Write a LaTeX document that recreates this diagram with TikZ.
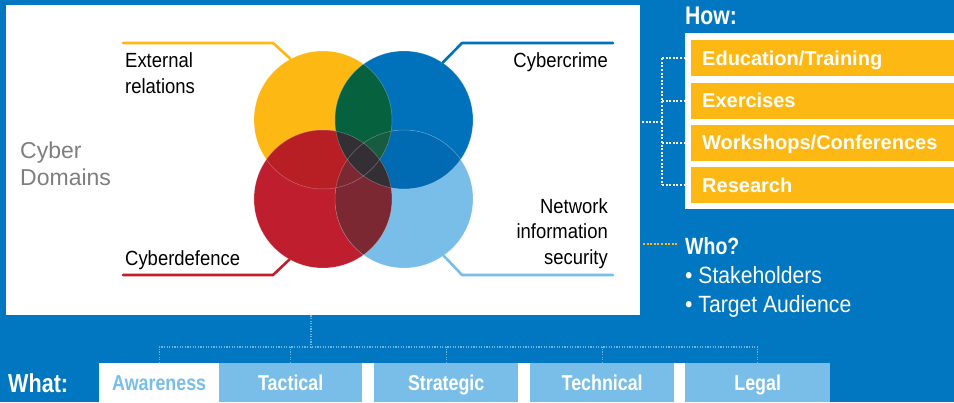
\documentclass[tikz,border=0pt]{standalone}
\usepackage{fontspec}
\setmainfont{Liberation Sans}
\newfontfamily\condf[FakeStretch=0.9]{Liberation Sans}
\newfontfamily\condb[FakeStretch=0.83]{Liberation Sans}
\definecolor{bgblue}{HTML}{0077C0}
\definecolor{cyY}{HTML}{FDB813}
\definecolor{cyB}{HTML}{0072BC}
\definecolor{cyR}{HTML}{BE1E2D}
\definecolor{cyL}{HTML}{79BEE8}
\definecolor{ovYB}{HTML}{06613F}
\definecolor{ovYBL}{HTML}{175C40}
\definecolor{ovYR}{HTML}{B81F25}
\definecolor{ovBL}{HTML}{006AB3}
\definecolor{ovRL}{HTML}{7C2833}
\definecolor{ovC}{HTML}{323035}
\definecolor{txtgray}{HTML}{7F7F7F}
\definecolor{dotblue}{HTML}{6DB3E3}
\begin{document}
\begin{tikzpicture}[x=1pt,y=-1pt,
  venn/.style={circle, minimum size=138, inner sep=0, draw=none},
  lead/.style={line width=2.6pt, line cap=round, line join=round},
  dlabel/.style={inner sep=0, text=black, font=\condf\fontsize{20.5}{25.5}\selectfont},
  howbox/.style={fill=cyY, anchor=north west, minimum height=36, text width=241, inner xsep=11, inner ysep=0, text height=14.3, text depth=0, align=left, text=white, font=\bfseries\fontsize{20}{24}\selectfont},
  whatbox/.style={fill=cyL, anchor=north west, minimum height=39, inner sep=0, text height=15, text depth=0, text=white, font=\condb\bfseries\fontsize{21.5}{24}\selectfont},
  wdot/.style={white, line width=2pt, dash pattern=on 2pt off 1.6pt},
  ydot/.style={cyY, line width=2pt, dash pattern=on 2pt off 1.6pt},
  bdot/.style={dotblue, line width=1.4pt, dash pattern=on 1.2pt off 1.4pt},
  wtext/.style={inner sep=0, text=white}
]
\useasboundingbox (0,0) rectangle (954,402);
\fill[bgblue] (0,0) rectangle (954,402);
% main white panel
\node[fill=white, minimum width=634, minimum height=310, anchor=north west, inner sep=0] (panel) at (6,5) {};
% venn circles
\node[venn, fill=cyY] (cy) at (323,120) {};
\node[venn, fill=cyB] (cb) at (404,120) {};
\node[venn, fill=cyR] (cr) at (323,199) {};
\node[venn, fill=cyL] (cl) at (404,199) {};
\begin{scope}\clip (323,120) circle (69); \fill[ovYR] (323,199) circle (69);\end{scope}
\begin{scope}\clip (404,120) circle (69); \fill[ovBL] (404,199) circle (69);\end{scope}
\begin{scope}\clip (323,120) circle (69); \fill[ovYB] (404,120) circle (69);\end{scope}
\begin{scope}\clip (323,120) circle (69); \clip (404,120) circle (69); \fill[ovYBL] (404,199) circle (69);\end{scope}
\begin{scope}\clip (323,199) circle (69); \fill[ovRL] (404,199) circle (69);\end{scope}
\begin{scope}\clip (404,120) circle (69); \fill[ovC] (323,199) circle (69);\end{scope}
\foreach \p in {(323,120),(404,120),(323,199),(404,199)}
  \draw[white, opacity=.3, line width=.5pt] \p circle (69);
% leader lines
\coordinate (ext1) at (273,43); \coordinate (ext0) at (123,43);
\coordinate (def1) at (273,275); \coordinate (def0) at (123,275);
\coordinate (cri1) at (462,43); \coordinate (cri0) at (613,43);
\coordinate (nis1) at (462,275); \coordinate (nis0) at (613,275);
\draw[lead, cyY] (cy.118) -- (ext1) -- (ext0);
\draw[lead, cyR] (cr.241) -- (def1) -- (def0);
\draw[lead, cyB] (cb.56) -- (cri1) -- (cri0);
\draw[lead, cyL] (cl.305) -- (nis1) -- (nis0);
% labels (base anchor = baseline of last line)
\node[dlabel, anchor=base west, align=left] (ext) at (125,93) {External\\relations};
\node[dlabel, anchor=base west] (cdef) at (125,265) {Cyberdefence};
\node[dlabel, anchor=base east] (ccrime) at (608,67) {Cybercrime};
\node[dlabel, anchor=base east, align=right] (nis) at (608,264) {Network\\information\\security};
\node[inner sep=0, anchor=base west, align=left, text=txtgray, font=\fontsize{23}{27}\selectfont] (dom) at (20,185) {Cyber\\Domains};
% How panel
\node[wtext, anchor=base west, font=\condb\bfseries\fontsize{25.5}{28}\selectfont] (how) at (685,24) {How:};
\fill[white] (685,33) rectangle (954,209);
\node[howbox] (b1) at (691,40) {Education/Training};
\node[howbox] (b2) at (691,82.3) {Exercises};
\node[howbox] (b3) at (691,124.6) {Workshops/Conferences};
\node[howbox] (b4) at (691,167) {Research};
\coordinate (tx) at (662,0);
\coordinate (howin) at (642,122);
\draw[wdot] (b1.west -| tx) -- (b4.west -| tx);
\foreach \b in {b1,b2,b3,b4}
  \draw[wdot] (\b.west -| tx) -- ([xshift=-6pt]\b.west);
\draw[wdot] (howin) -- (howin -| tx);
% Who
\node[wtext, anchor=base west, font=\condb\bfseries\fontsize{23.5}{28}\selectfont] (who) at (685,254) {Who?};
\coordinate (whoin) at (643,244);
\draw[ydot] (whoin) -- ([xshift=-8pt]whoin -| who.west);
\node[wtext, anchor=base west, align=left, font=\condf\fontsize{23.5}{29}\selectfont] (whol) at (685,312) {• Stakeholders\\• Target Audience};
% What
\node[wtext, anchor=base west, font=\condb\bfseries\fontsize{26}{28}\selectfont] (what) at (8,392) {What:};
\fill[white] (99,363) rectangle (685,402);
\node[whatbox, fill=white, text=cyL, minimum width=120] (aw) at (99,363) {Awareness};
\node[whatbox, minimum width=143] (tac) at (219,363) {Tactical};
\node[whatbox, minimum width=144] (str) at (374,363) {Strategic};
\node[whatbox, minimum width=144] (tec) at (530,363) {Technical};
\node[whatbox, minimum width=145] (leg) at (685,363) {Legal};
\coordinate (bus) at (311,347);
\draw[bdot] (bus |- panel.south) -- (bus);
\draw[bdot] (aw.north) |- (bus) -| (leg.north);
\foreach \n in {tac,str,tec}
  \draw[bdot] (\n.north) -- (\n.north |- bus);
\end{tikzpicture}
\end{document}
